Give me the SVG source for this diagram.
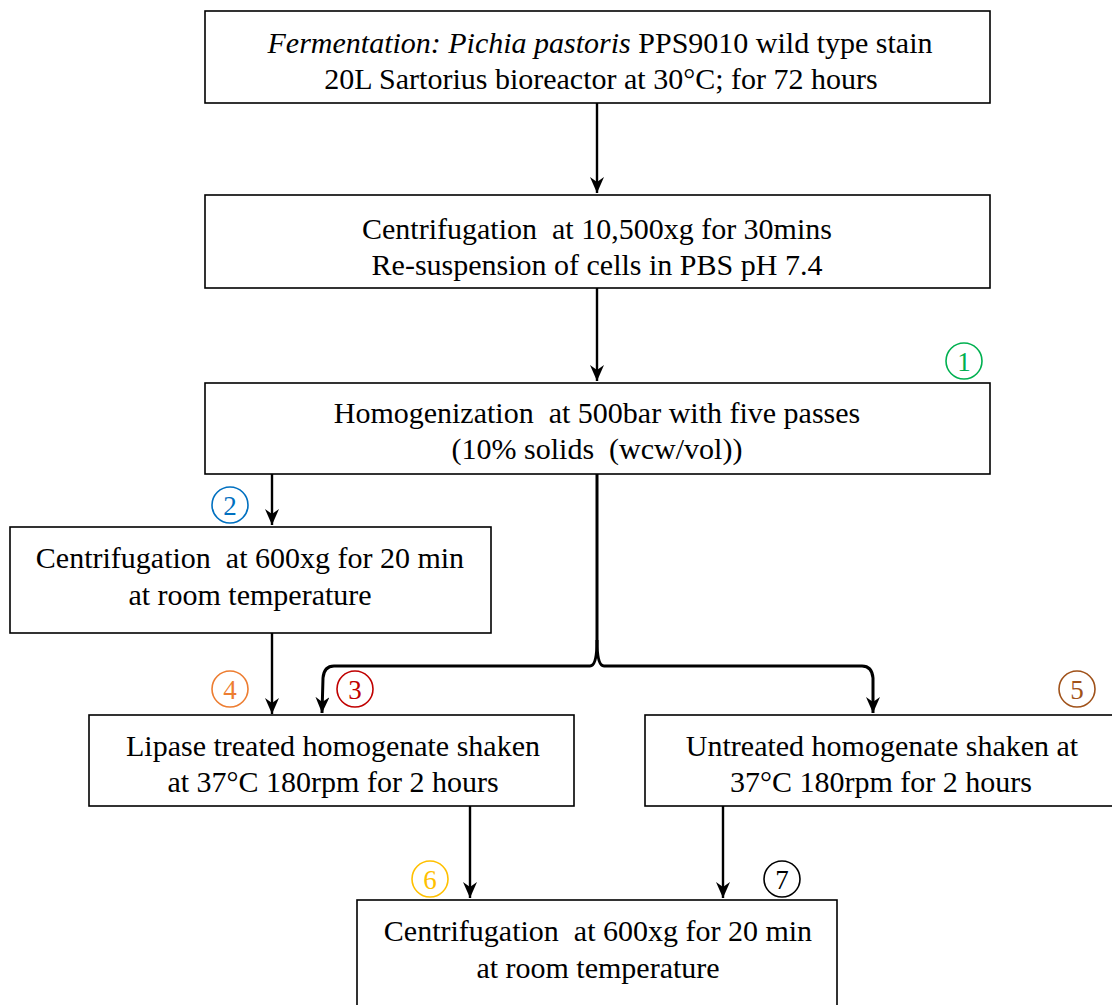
<svg xmlns="http://www.w3.org/2000/svg" width="1112" height="1005" viewBox="0 0 1112 1005">
<defs>
<marker id="ah" viewBox="0 0 16 14" markerWidth="16" markerHeight="14" refX="16" refY="7" orient="auto" markerUnits="userSpaceOnUse">
<path d="M0,0 L16,7 L0,14 L5,7 Z" fill="#000"/>
</marker>
<style>
.box{fill:#fff;stroke:#000;stroke-width:1.6}
.t{font-family:"Liberation Serif","Times New Roman",serif;font-size:30px;fill:#000;text-anchor:middle}
.c{fill:none;stroke-width:1.6}
.n{font-family:"Liberation Serif","Times New Roman",serif;font-size:27px;text-anchor:middle}
.ln{fill:none;stroke:#000;stroke-width:2.4}
.br{fill:none;stroke:#000;stroke-width:3}
</style>
</defs>
<rect width="1112" height="1005" fill="#fff"/>
<g id="connectors">
<line class="ln" x1="597" y1="103" x2="597" y2="193" marker-end="url(#ah)"/>
<line class="ln" x1="597" y1="288" x2="597" y2="381" marker-end="url(#ah)"/>
<line class="ln" x1="272" y1="474" x2="272" y2="525" marker-end="url(#ah)"/>
<line class="ln" x1="272" y1="633" x2="272" y2="714" marker-end="url(#ah)"/>
<path class="br" d="M597,474 L597,640 Q597,666 590,666 L334,666 Q324,666 323,678 L322,713" marker-end="url(#ah)"/>
<path class="br" d="M597,640 Q597,666 604,666 L862,666 Q872,666 873,678 L873,713" marker-end="url(#ah)"/>
<line class="ln" x1="470" y1="806" x2="470" y2="898" marker-end="url(#ah)"/>
<line class="ln" x1="723" y1="806" x2="723" y2="898" marker-end="url(#ah)"/>
</g>
<g id="node1">
<rect class="box" x="205" y="11" width="785" height="92"/>
<text class="t" x="600" y="53"><tspan font-style="italic">Fermentation: Pichia pastoris</tspan> PPS9010 wild type stain</text>
<text class="t" x="601" y="89">20L Sartorius bioreactor at 30°C; for 72 hours</text>
</g>
<g id="node2">
<rect class="box" x="205" y="195" width="785" height="93"/>
<text class="t" x="597" y="239" xml:space="preserve">Centrifugation  at 10,500xg for 30mins</text>
<text class="t" x="597" y="275">Re-suspension of cells in PBS pH 7.4</text>
</g>
<g id="node3">
<rect class="box" x="205" y="383" width="785" height="91"/>
<text class="t" x="597" y="423" xml:space="preserve">Homogenization  at 500bar with five passes</text>
<text class="t" x="597" y="459" xml:space="preserve">(10% solids  (wcw/vol))</text>
</g>
<g id="node4">
<rect class="box" x="10" y="527" width="481" height="106"/>
<text class="t" x="250" y="568" xml:space="preserve">Centrifugation  at 600xg for 20 min</text>
<text class="t" x="250" y="605">at room temperature</text>
</g>
<g id="node5">
<rect class="box" x="89" y="715" width="485" height="91"/>
<text class="t" x="333" y="756">Lipase treated homogenate shaken</text>
<text class="t" x="333" y="792">at 37°C 180rpm for 2 hours</text>
</g>
<g id="node6">
<rect class="box" x="645" y="715" width="475" height="91"/>
<text class="t" x="882" y="756">Untreated homogenate shaken at</text>
<text class="t" x="881" y="792">37°C 180rpm for 2 hours</text>
</g>
<g id="node7">
<rect class="box" x="357" y="900" width="480" height="115"/>
<text class="t" x="598" y="941" xml:space="preserve">Centrifugation  at 600xg for 20 min</text>
<text class="t" x="598" y="978">at room temperature</text>
</g>
<g id="labels">
<g id="lab1"><circle class="c" cx="964" cy="361" r="18" stroke="#00b050"/><text class="n" x="964" y="370.5" fill="#00b050">1</text></g>
<g id="lab2"><circle class="c" cx="230" cy="505" r="18" stroke="#0070c0"/><text class="n" x="230" y="514.5" fill="#0070c0">2</text></g>
<g id="lab3"><circle class="c" cx="355" cy="689" r="18" stroke="#c00000"/><text class="n" x="355" y="698.5" fill="#c00000">3</text></g>
<g id="lab4"><circle class="c" cx="230" cy="689" r="18" stroke="#ed7d31"/><text class="n" x="230" y="698.5" fill="#ed7d31">4</text></g>
<g id="lab5"><circle class="c" cx="1077" cy="689" r="18" stroke="#a0521a"/><text class="n" x="1077" y="698.5" fill="#a0521a">5</text></g>
<g id="lab6"><circle class="c" cx="430" cy="879" r="18" stroke="#ffc000"/><text class="n" x="430" y="888.5" fill="#ffc000">6</text></g>
<g id="lab7"><circle class="c" cx="782" cy="879" r="18" stroke="#000"/><text class="n" x="782" y="888.5" fill="#000">7</text></g>
</g>
</svg>
